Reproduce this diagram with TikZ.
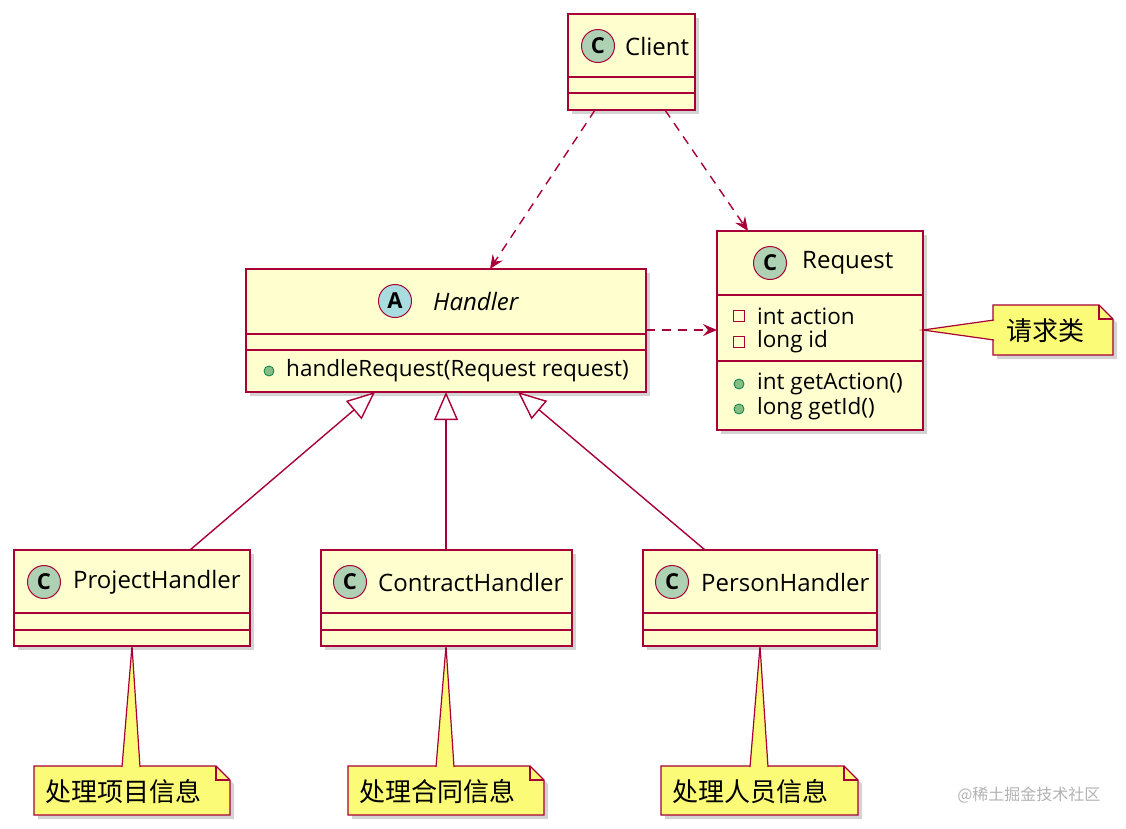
\documentclass[tikz,border=0pt]{standalone}
\usepackage{fontspec}
\setmainfont{Open Sans}
\newfontfamily\cjk{Noto Sans CJK SC}
\usetikzlibrary{shadows,arrows.meta}
\definecolor{cfill}{HTML}{FEFECE}
\definecolor{cline}{HTML}{A80036}
\definecolor{cgreen}{HTML}{ADD1B2}
\definecolor{ablue}{HTML}{A9DCDF}
\definecolor{nfill}{HTML}{FBFB77}
\definecolor{pub}{HTML}{84BE84}
\definecolor{pubd}{HTML}{038048}
\begin{document}
\begin{tikzpicture}[x=1pt,y=-1pt,
 box/.style={draw=cline,fill=cfill,line width=2pt,drop shadow={shadow xshift=4pt,shadow yshift=-4pt,opacity=0.35}},
 sep/.style={draw=cline,line width=2pt},
 ic/.style={circle,draw=cline,line width=1pt,fill=cgreen,minimum size=33pt,inner sep=0pt,font=\bfseries\fontsize{22}{24}\selectfont},
 lbl/.style={anchor=west,font=\fontsize{24}{27}\selectfont,inner sep=0pt},
 mem/.style={anchor=west,font=\fontsize{22.5}{25}\selectfont,inner sep=0pt},
 dep/.style={draw=cline,line width=1.4pt,dash pattern=on 9pt off 7pt,-{Stealth[length=14pt,width=12pt,inset=5pt]}},
 inh/.style={draw=cline,line width=1.4pt,-{Triangle[open,length=28pt,width=24pt,fill=white]}},
 note/.style={draw=cline,fill=nfill,line width=1.2pt},
 ntxt/.style={font=\cjk\fontsize{26}{28}\selectfont,inner sep=0pt},
 pubc/.style={circle,fill=pub,draw=pubd,line width=0.8pt,inner sep=0pt,minimum size=10pt},
 priv/.style={draw=cline,line width=1pt,inner sep=0pt,minimum size=11pt}]
\useasboundingbox (0,0) rectangle (1126,828);
% Client
\path[box] (568,14) rectangle (695,110);
\draw[sep] (568,77)--(695,77) (568,93)--(695,93);
\node[ic] (cic) at (598,46) {C};
\node[lbl] (client) at (625,46) {Client};
\coordinate (cb1) at (595,110); \coordinate (cb2) at (665,110);
% Handler
\path[box] (246,269) rectangle (646,392);
\draw[sep] (246,334)--(646,334) (246,350)--(646,350);
\node[ic,fill=ablue] (hic) at (395,301) {A};
\node[lbl,font=\itshape\fontsize{24}{27}\selectfont] (handler) at (433,301) {Handler};
\node[pubc] (hm) at (269,371) {};
\node[mem] (hmt) at (286,371) {handleRequest(Request request)};
% Request
\path[box] (717,231) rectangle (923,430);
\draw[sep] (717,295)--(923,295) (717,361)--(923,361);
\node[ic] (ric) at (770,263) {C};
\node[lbl] (request) at (802,263) {Request};
\node[priv] (p1) at (739,316) {};
\node[priv] (p2) at (739,342) {};
\node[mem] (a1) at (757,316) {int action};
\node[mem] (a2) at (757,342) {long id};
\node[pubc] (m1) at (739,384) {};
\node[pubc] (m2) at (739,409) {};
\node[mem] (mt1) at (757,384) {int getAction()};
\node[mem] (mt2) at (757,409) {long getId()};
% subclasses
\path[box] (14,550) rectangle (250,646);
\draw[sep] (14,613)--(250,613) (14,630)--(250,630);
\node[ic] (pic) at (44,582) {C};
\node[lbl] (proj) at (73,582) {ProjectHandler};
\path[box] (321,550) rectangle (572,646);
\draw[sep] (321,613)--(572,613) (321,630)--(572,630);
\node[ic] (coic) at (350,582) {C};
\node[lbl] (contr) at (378,582) {ContractHandler};
\path[box] (643,550) rectangle (877,646);
\draw[sep] (643,613)--(877,613) (643,630)--(877,630);
\node[ic] (peic) at (672,582) {C};
\node[lbl] (pers) at (701,582) {PersonHandler};
% connectors
\coordinate (ht) at (490,269); \coordinate (rt) at (748,231);
\draw[dep] (cb1)--(ht);
\draw[dep] (cb2)--(rt);
\coordinate (hr) at (646,330); \coordinate (rl) at (717,330);
\draw[dep] (hr)--(rl);
\coordinate (s1) at (190,550); \coordinate (s2) at (446,550); \coordinate (s3) at (705,550);
\coordinate (h1) at (375,392); \coordinate (h2) at (446,392); \coordinate (h3) at (518,392);
\draw[inh] (s1)--(h1);
\draw[inh] (s2)--(h2);
\draw[inh] (s3)--(h3);
% notes
\newcommand\mynote[4]{%
 \path[note,drop shadow={shadow xshift=4pt,shadow yshift=-4pt,opacity=0.35}] (#1,#2)--(#3-14,#2)--(#3,#2+14)--(#3,#4)--(#1,#4)--cycle;
 \draw[cline,line width=1.2pt] (#3-14,#2)--(#3-14,#2+14)--(#3,#2+14);}
\mynote{34}{766}{230}{815}
\path[note] (122,767)--(132,646)--(140,767);
\draw[nfill,line width=1.8pt] (123,766)--(139,766);
\node[ntxt] (n1) at (123,792) {处理项目信息};
\mynote{348}{766}{544}{815}
\path[note] (436,767)--(446,646)--(454,767);
\draw[nfill,line width=1.8pt] (437,766)--(453,766);
\node[ntxt] (n2) at (437,792) {处理合同信息};
\mynote{661}{766}{858}{815}
\path[note] (750,767)--(760,646)--(768,767);
\draw[nfill,line width=1.8pt] (751,766)--(767,766);
\node[ntxt] (n3) at (750,792) {处理人员信息};
\mynote{993}{305}{1113}{355}
\path[note] (994,320)--(923,330)--(994,340);
\draw[nfill,line width=1.8pt] (993,321)--(993,339);
\node[ntxt] (n4) at (1045,331) {请求类};
\node[font=\cjk\fontsize{16}{18}\selectfont,text=gray!60,anchor=east] (wm) at (1104,795) {@稀土掘金技术社区};
\end{tikzpicture}
\end{document}
